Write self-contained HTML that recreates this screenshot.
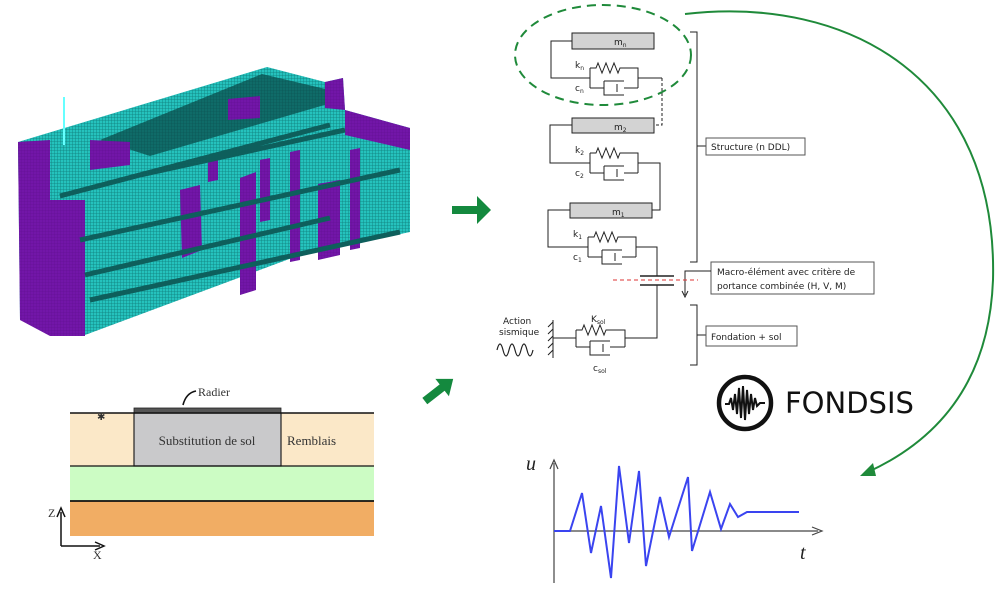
<!DOCTYPE html>
<html><head><meta charset="utf-8"><style>
html,body{margin:0;padding:0;background:#fff;}
svg{display:block;}
.t{font-family:"DejaVu Sans","Liberation Sans",sans-serif;font-size:9px;fill:#222;}
.s{font-family:"Liberation Serif",serif;fill:#333;}
</style></head><body>
<svg width="996" height="601" viewBox="0 0 996 601" xmlns="http://www.w3.org/2000/svg">
<defs>
<pattern id="mesh" width="3" height="3" patternUnits="userSpaceOnUse">
<rect width="3" height="3" fill="#25c2bd"/><path d="M0 0H3M0 0V3" stroke="#0f7d7a" stroke-width="0.8"/>
</pattern>
<pattern id="meshd" width="3" height="3" patternUnits="userSpaceOnUse">
<rect width="3" height="3" fill="#0f6b68"/><path d="M0 0H3M0 0V3" stroke="#0a4f4d" stroke-width="0.6"/>
</pattern>
<pattern id="meshp" width="3" height="3" patternUnits="userSpaceOnUse">
<rect width="3" height="3" fill="#7216a8"/><path d="M0 0H3M0 0V3" stroke="#5e0f8c" stroke-width="0.5"/>
</pattern>
</defs>

<!-- Building -->
<polygon points="18,142 267,67 325,82 343,78 345,110 410,128 410,232 300,255 85,335 20,320" fill="url(#mesh)"/>
<polygon points="100,140 262,74 338,92 328,104 150,156" fill="url(#meshd)"/>
<polygon points="18,142 50,140 50,200 85,200 85,336 50,336 20,320" fill="url(#meshp)"/>
<polygon points="90,140 130,142 130,165 90,170" fill="url(#meshp)"/>
<polygon points="228,99 260,96 260,118 228,120" fill="url(#meshp)"/>
<polygon points="325,82 343,78 345,110 325,108" fill="url(#meshp)"/>
<polygon points="345,110 410,128 410,150 345,135" fill="url(#meshp)"/>
<polygon points="180,190 200,185 202,250 182,258" fill="url(#meshp)"/>
<polygon points="208,157 218,155 218,180 208,182" fill="url(#meshp)"/>
<polygon points="240,178 256,172 256,290 240,295" fill="url(#meshp)"/>
<polygon points="260,160 270,158 270,220 260,222" fill="url(#meshp)"/>
<polygon points="290,152 300,150 300,260 290,262" fill="url(#meshp)"/>
<polygon points="318,184 340,180 340,255 318,260" fill="url(#meshp)"/>
<polygon points="350,150 360,148 360,248 350,250" fill="url(#meshp)"/>
<path d="M60,196 L330,125 M80,240 L400,170 M85,275 L330,218 M90,300 L400,232 M140,175 L345,130" stroke="#0e5f5c" stroke-width="5" fill="none"/>
<line x1="64" y1="97" x2="64" y2="145" stroke="#6ff" stroke-width="2"/>

<!-- soil section -->
<rect x="70" y="413" width="304" height="53" fill="#fbe8c8"/>
<rect x="70" y="466" width="304" height="35" fill="#ccfcc4"/>
<rect x="70" y="501" width="304" height="35" fill="#f1ad64"/>
<rect x="134" y="413" width="147" height="53" fill="#c9c9cb" stroke="#222" stroke-width="1.2"/>
<rect x="134" y="408" width="147" height="5" fill="#555" stroke="#222" stroke-width="0.8"/>
<line x1="70" y1="413" x2="374" y2="413" stroke="#111" stroke-width="1.5"/>
<line x1="70" y1="466" x2="374" y2="466" stroke="#111" stroke-width="1.3"/>
<line x1="70" y1="501" x2="374" y2="501" stroke="#111" stroke-width="1.8"/>
<text x="97" y="420" font-size="10" class="s" fill="#222">✱</text>
<text x="207" y="445" font-size="13" text-anchor="middle" class="s">Substitution de sol</text>
<text x="287" y="445" font-size="13" class="s">Remblais</text>
<text x="198" y="396" font-size="12" class="s">Radier</text>
<path d="M196,391 Q186,393 183,405" stroke="#111" stroke-width="1.6" fill="none"/>
<path d="M61,546 L61,512 M57,517 L61,508 L65,517 M61,546 L100,546 M95,542 L104,546 L95,550" stroke="#111" stroke-width="1.5" fill="none"/>
<text x="48" y="517" font-size="12" class="s" fill="#111">Z</text>
<text x="93" y="559" font-size="12" class="s" fill="#111">X</text>

<!-- green block arrows -->
<polygon points="452,206 477,206 477,196 491,210 477,224 477,214 452,214" fill="#14893e"/>
<g transform="translate(439,390) rotate(-38)">
<polygon points="-18,-4 4,-4 4,-11 18,0 4,11 4,4 -18,4" fill="#14893e"/>
</g>

<!-- mechanical diagram -->
<g stroke="#222" stroke-width="1" fill="none">
<rect x="572" y="33" width="82" height="16" fill="#d3d3d3"/>
<path d="M572,41 H551 V78 H590 M590,68 V88 M590,68 H596 l2,-5 l4,10 l4,-10 l4,10 l4,-10 l4,10 l2,-5 H638 V88 M590,88 H604 M638,88 H624 M604,81 V95 H624 M604,81 H624 M617,84 V92 M638,78 H662"/>
<path d="M662,78 V125 H654" stroke-dasharray="3,2"/>
<rect x="572" y="118" width="82" height="15" fill="#d3d3d3"/>
<path d="M572,125 H550 V163 H590 M590,153 V173 M590,153 H596 l2,-5 l4,10 l4,-10 l4,10 l4,-10 l4,10 l2,-5 H638 V173 M590,173 H604 M638,173 H624 M604,166 V180 H624 M604,166 H624 M617,169 V177 M638,163 H660 V210 H652"/>
<rect x="570" y="203" width="82" height="15" fill="#d3d3d3"/>
<path d="M570,210 H548 V247 H588 M588,237 V257 M588,237 H594 l2,-5 l4,10 l4,-10 l4,10 l4,-10 l4,10 l2,-5 H636 V257 M588,257 H602 M636,257 H622 M602,250 V264 H622 M602,250 H622 M615,253 V261 M636,247 H657 V276"/>
<path d="M640,276 H674 M640,285 H674" stroke-width="1.5"/>
<path d="M657,285 V338 H625 M576,330 V347 M576,330 H582 l2,-5 l4,10 l4,-10 l4,10 l4,-10 l4,10 l2,-5 H625 V347 M576,347 H590 M625,347 H610 M590,341 V355 H610 M590,341 H610 M603,344 V352 M553,338 H576"/>
<path d="M553,320 V358 M553,322 l-5,5 M553,329 l-5,5 M553,336 l-5,5 M553,343 l-5,5 M553,350 l-5,5"/>
<path d="M497,350 q3,-12 6,0 t6,0 t6,0 t6,0 t6,0 t6,0" stroke-width="1.2"/>
<path d="M690,32 H697 V262 H690 M697,146 H706"/>
<path d="M690,305 H697 V365 H690 M697,335 H706"/>
<rect x="706" y="138" width="99" height="17" stroke="#555"/>
<rect x="711" y="262" width="163" height="32" stroke="#555"/>
<rect x="706" y="326" width="91" height="20" stroke="#555"/>
<path d="M711,271 H685 V295 M682,291 L685,297 L688,291"/>
</g>
<line x1="613" y1="280" x2="698" y2="280" stroke="#d33" stroke-width="1" stroke-dasharray="4,3"/>
<text class="t" x="614" y="45">m<tspan font-size="6" dy="2">n</tspan></text>
<text class="t" x="614" y="130">m<tspan font-size="6" dy="2">2</tspan></text>
<text class="t" x="612" y="215">m<tspan font-size="6" dy="2">1</tspan></text>
<text class="t" x="575" y="68">k<tspan font-size="6" dy="2">n</tspan></text>
<text class="t" x="575" y="91">c<tspan font-size="6" dy="2">n</tspan></text>
<text class="t" x="575" y="153">k<tspan font-size="6" dy="2">2</tspan></text>
<text class="t" x="575" y="176">c<tspan font-size="6" dy="2">2</tspan></text>
<text class="t" x="573" y="237">k<tspan font-size="6" dy="2">1</tspan></text>
<text class="t" x="573" y="260">c<tspan font-size="6" dy="2">1</tspan></text>
<text class="t" x="591" y="322">K<tspan font-size="6" dy="2">sol</tspan></text>
<text class="t" x="593" y="371">c<tspan font-size="6" dy="2">sol</tspan></text>
<text class="t" x="503" y="324">Action</text>
<text class="t" x="499" y="335">sismique</text>
<text class="t" x="711" y="150">Structure (n DDL)</text>
<text class="t" x="717" y="275">Macro-élément avec critère de</text>
<text class="t" x="717" y="289">portance combinée (H, V, M)</text>
<text class="t" x="711" y="340">Fondation + sol</text>

<ellipse cx="603" cy="55" rx="88" ry="50" fill="none" stroke="#1f8a3a" stroke-width="2" stroke-dasharray="9,6"/>
<path d="M685,14 C850,-5 998,80 993,280 C988,410 905,455 868,472" fill="none" stroke="#1f8a3a" stroke-width="2"/>
<polygon points="860,476 873,463 876,476" fill="#1f8a3a"/>

<circle cx="745" cy="403" r="26" fill="none" stroke="#111" stroke-width="4.5"/>
<path d="M725,404 L729,404 L731,398 L733,410 L735,394 L737,414 L739,388 L741,418 L743,386 L745,420 L747,390 L749,414 L751,394 L753,410 L755,398 L757,406 L760,403 L765,403" fill="none" stroke="#111" stroke-width="2"/>
<text x="785" y="413" font-family="DejaVu Sans, Liberation Sans, sans-serif" font-size="29" fill="#111">FONDSIS</text>

<path d="M554,583 V463 M550,469 L554,460 L558,469 M554,531 H818 M812,527 L822,531 L812,535" stroke="#444" stroke-width="1.2" fill="none"/>
<text x="526" y="470" font-family="Liberation Serif, serif" font-style="italic" font-size="20" fill="#222">u</text>
<text x="800" y="559" font-family="Liberation Serif, serif" font-style="italic" font-size="20" fill="#222">t</text>
<polyline points="554,531 570,531 582,493 591,553 601,506 611,578 619,466 629,543 639,471 646,566 660,497 669,537 688,477 692,551 710,492 721,529 730,504 738,517 747,512 799,512" fill="none" stroke="#3a44f0" stroke-width="2"/>
</svg>
</body></html>
